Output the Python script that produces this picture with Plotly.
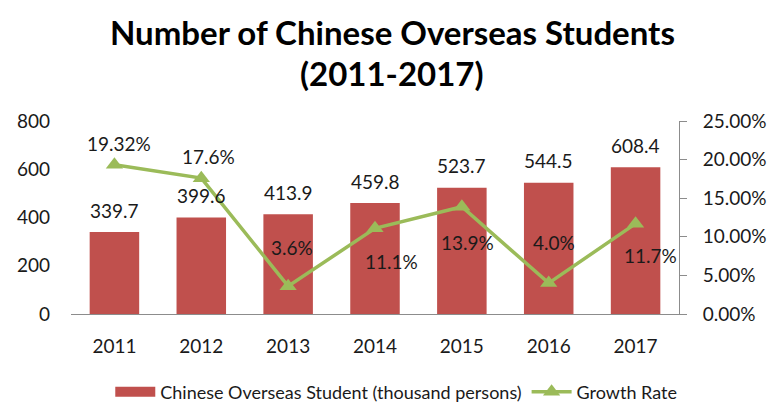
import plotly.graph_objects as go

years = ["2011", "2012", "2013", "2014", "2015", "2016", "2017"]
students = [339.7, 399.6, 413.9, 459.8, 523.7, 544.5, 608.4]
growth = [0.1932, 0.176, 0.036, 0.111, 0.139, 0.040, 0.117]
growth_labels = ["19.32%", "17.6%", "3.6%", "11.1%", "13.9%", "4.0%", "11.7%"]
title_lines = ["Number of Chinese Overseas Students", "(2011-2017)"]
bar_name = "Chinese Overseas Student (thousand persons)"
line_name = "Growth Rate"

# label offsets (pixels) for the growth labels
g_xshift = [5, 7, 4, 16, 6, 5, 15]
g_yshift = [21, 22, 39, -33, -36, 41, -32]

FONT = "Lato"
TXT = "#1a1a1a"
RED = "#C0504D"
GREEN = "#9BBB59"

fig = go.Figure()

fig.add_trace(go.Bar(x=years, y=students, name=bar_name, showlegend=False,
                     marker=dict(color=RED, line=dict(width=0)), width=0.57))

# legend-only entry so the bar key is a wide block like the original
fig.add_trace(go.Scatter(x=[None], y=[None], name=bar_name, mode="lines",
                         line=dict(color=RED, width=13)))

fig.add_trace(go.Scatter(x=years, y=growth, yaxis="y2", name=line_name, mode="lines+markers",
                         line=dict(color=GREEN, width=3.5),
                         marker=dict(symbol="triangle-up", size=15, color=GREEN)))

annotations = []
# on a category axis annotations take the category index
for i, v in enumerate(students):
    annotations.append(dict(x=i, y=v, xref="x", yref="y", text=f"{v}", showarrow=False,
                            yshift=22, font=dict(family=FONT, size=19, color=TXT)))
for i, (v, lab, dx, dy) in enumerate(zip(growth, growth_labels, g_xshift, g_yshift)):
    annotations.append(dict(x=i, y=v, xref="x", yref="y2", text=lab, showarrow=False,
                            xshift=dx, yshift=dy, font=dict(family=FONT, size=19, color=TXT)))
# two-line title (plotly clips multi-line titles anchored at the top)
for line, ty in zip(title_lines, [1.461, 1.249]):
    annotations.append(dict(x=0.528, y=ty, xref="paper", yref="paper", text=f"<b>{line}</b>",
                            showarrow=False, xanchor="center", yanchor="middle",
                            font=dict(family=FONT, size=33, color="#000000")))

# page body has an 8px margin, so the figure is 8px smaller each way
fig.update_layout(
    width=776, height=395,
    margin=dict(l=63, r=105, t=113, b=89, autoexpand=False),
    paper_bgcolor="white", plot_bgcolor="white",
    font=dict(family=FONT, size=19, color=TXT),
    showlegend=True,
    legend=dict(orientation="h", x=0.535, xanchor="center", y=-0.405, yanchor="middle",
                font=dict(family=FONT, size=18, color=TXT), itemwidth=40,
                bgcolor="rgba(0,0,0,0)"),
    xaxis=dict(type="category", range=[-0.5, 6.5], showgrid=False, showline=True,
               linecolor="#8c8c8c", linewidth=1,
               ticks="", ticklabelstandoff=15, tickfont=dict(size=19)),
    yaxis=dict(range=[0, 800], dtick=200, showgrid=False, zeroline=False, showline=False,
               ticks="", ticklabelstandoff=20, tickfont=dict(size=19)),
    yaxis2=dict(range=[0, 0.25], dtick=0.05, tickformat=".2%", overlaying="y", side="right",
                showgrid=False, zeroline=False, showline=True, linecolor="#8c8c8c", linewidth=1,
                ticks="outside", ticklen=7, tickcolor="#8c8c8c", ticklabelstandoff=12,
                tickfont=dict(size=19)),
    annotations=annotations,
)

fig.write_html("out.html")
